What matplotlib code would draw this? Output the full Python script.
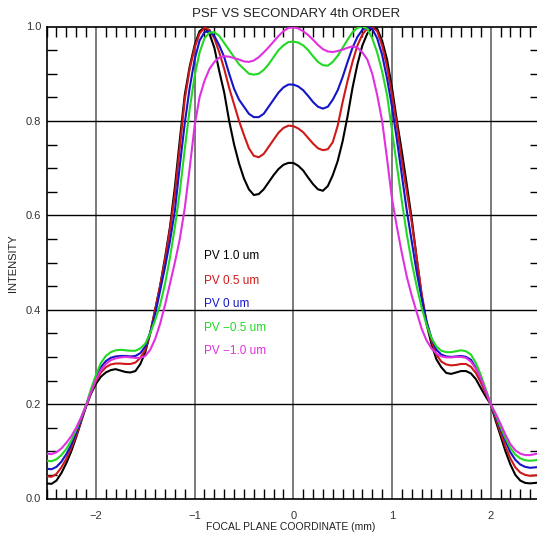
import matplotlib
matplotlib.use("Agg")
import numpy as np
import matplotlib.pyplot as plt
from matplotlib.ticker import MultipleLocator, FixedLocator

plt.rcParams['font.family'] = ['Liberation Sans', 'DejaVu Sans']

x_coord = np.round(np.linspace(-2.5, 2.5, 101), 2)

pv_p10 = [0.032, 0.031, 0.038, 0.054, 0.075, 0.100, 0.130, 0.163, 0.195, 0.222,
          0.243, 0.258, 0.267, 0.272, 0.274, 0.271, 0.268, 0.267, 0.270, 0.285,
          0.310, 0.350, 0.400, 0.450, 0.510, 0.575, 0.660, 0.760, 0.855, 0.915,
          0.960, 0.990, 0.998, 0.985, 0.955, 0.905, 0.860, 0.800, 0.750, 0.710,
          0.678, 0.655, 0.643, 0.645, 0.655, 0.670, 0.685, 0.698, 0.707, 0.711,
          0.711, 0.705, 0.695, 0.680, 0.666, 0.655, 0.652, 0.662, 0.685, 0.715,
          0.757, 0.810, 0.870, 0.920, 0.960, 0.985, 0.998, 0.995, 0.970, 0.930,
          0.870, 0.800, 0.735, 0.665, 0.593, 0.510, 0.430, 0.370, 0.327, 0.295,
          0.278, 0.266, 0.264, 0.267, 0.270, 0.270, 0.265, 0.253, 0.234, 0.216,
          0.200, 0.165, 0.133, 0.100, 0.072, 0.050, 0.038, 0.033, 0.032, 0.033, 0.034]

pv_p05 = [0.047, 0.046, 0.052, 0.066, 0.084, 0.107, 0.133, 0.165, 0.196, 0.225,
          0.249, 0.267, 0.278, 0.284, 0.286, 0.286, 0.285, 0.285, 0.288, 0.298,
          0.315, 0.350, 0.400, 0.450, 0.505, 0.570, 0.645, 0.745, 0.845, 0.910,
          0.955, 0.985, 0.997, 0.993, 0.975, 0.945, 0.910, 0.870, 0.835, 0.800,
          0.770, 0.742, 0.726, 0.723, 0.730, 0.745, 0.760, 0.775, 0.785, 0.790,
          0.789, 0.784, 0.776, 0.764, 0.752, 0.742, 0.738, 0.740, 0.755, 0.790,
          0.840, 0.885, 0.925, 0.960, 0.983, 0.996, 0.999, 0.990, 0.960, 0.915,
          0.855, 0.790, 0.715, 0.650, 0.585, 0.510, 0.435, 0.375, 0.335, 0.305,
          0.290, 0.284, 0.282, 0.283, 0.285, 0.285, 0.279, 0.266, 0.246, 0.223,
          0.200, 0.170, 0.140, 0.110, 0.085, 0.066, 0.055, 0.050, 0.048, 0.049, 0.050]

pv_0 = [0.063, 0.062, 0.067, 0.078, 0.094, 0.114, 0.140, 0.168, 0.197, 0.228,
        0.255, 0.278, 0.291, 0.298, 0.301, 0.302, 0.302, 0.301, 0.302, 0.308,
        0.322, 0.352, 0.390, 0.440, 0.490, 0.545, 0.610, 0.705, 0.795, 0.870,
        0.930, 0.970, 0.988, 0.990, 0.980, 0.960, 0.935, 0.900, 0.868, 0.845,
        0.830, 0.815, 0.808, 0.808, 0.815, 0.830, 0.845, 0.860, 0.871, 0.877,
        0.877, 0.873, 0.865, 0.853, 0.840, 0.830, 0.826, 0.830, 0.845, 0.865,
        0.893, 0.925, 0.955, 0.978, 0.993, 0.999, 0.995, 0.975, 0.940, 0.890,
        0.830, 0.760, 0.685, 0.610, 0.545, 0.480, 0.425, 0.375, 0.340, 0.315,
        0.305, 0.301, 0.300, 0.301, 0.302, 0.300, 0.294, 0.277, 0.254, 0.228,
        0.200, 0.175, 0.148, 0.122, 0.098, 0.082, 0.072, 0.067, 0.065, 0.066, 0.067]

pv_m05 = [0.080, 0.079, 0.083, 0.092, 0.105, 0.123, 0.146, 0.171, 0.198, 0.232,
          0.262, 0.287, 0.302, 0.310, 0.314, 0.315, 0.314, 0.313, 0.313, 0.318,
          0.328, 0.350, 0.378, 0.410, 0.455, 0.510, 0.575, 0.650, 0.740, 0.825,
          0.895, 0.945, 0.975, 0.987, 0.988, 0.980, 0.965, 0.950, 0.935, 0.920,
          0.910, 0.900, 0.898, 0.900, 0.908, 0.920, 0.935, 0.950, 0.960, 0.967,
          0.968, 0.966, 0.960, 0.950, 0.937, 0.925, 0.918, 0.917, 0.925, 0.938,
          0.955, 0.972, 0.988, 0.997, 1.000, 0.995, 0.975, 0.945, 0.905, 0.855,
          0.780, 0.705, 0.630, 0.560, 0.500, 0.450, 0.405, 0.368, 0.340, 0.322,
          0.313, 0.310, 0.310, 0.312, 0.314, 0.312, 0.305, 0.287, 0.262, 0.232,
          0.200, 0.178, 0.152, 0.128, 0.107, 0.093, 0.085, 0.081, 0.080, 0.081, 0.083]

pv_m10 = [0.095, 0.094, 0.098, 0.106, 0.118, 0.132, 0.150, 0.172, 0.197, 0.225,
          0.252, 0.272, 0.285, 0.293, 0.297, 0.299, 0.300, 0.299, 0.298, 0.298,
          0.302, 0.315, 0.338, 0.370, 0.410, 0.455, 0.500, 0.550, 0.615, 0.700,
          0.790, 0.850, 0.885, 0.910, 0.925, 0.934, 0.937, 0.936, 0.933, 0.930,
          0.926, 0.925, 0.928, 0.935, 0.945, 0.956, 0.968, 0.980, 0.990, 0.997,
          0.998, 0.996, 0.990, 0.982, 0.972, 0.961, 0.952, 0.947, 0.946, 0.948,
          0.951, 0.955, 0.958, 0.955, 0.945, 0.930, 0.900, 0.855, 0.800, 0.720,
          0.635, 0.575, 0.520, 0.470, 0.430, 0.395, 0.360, 0.335, 0.318, 0.307,
          0.301, 0.299, 0.299, 0.300, 0.300, 0.298, 0.290, 0.275, 0.255, 0.228,
          0.200, 0.180, 0.158, 0.135, 0.115, 0.102, 0.095, 0.092, 0.092, 0.094, 0.096]

series = [pv_p10, pv_p05, pv_0, pv_m05, pv_m10]
labels = ["PV 1.0 um", "PV 0.5 um", "PV 0 um", "PV \u22120.5 um", "PV \u22121.0 um"]
colors = ["#000000", "#d01818", "#1414c8", "#22d822", "#e030e0"]

x_ticks = [-2, -1, 0, 1, 2]
y_ticks = [0.0, 0.2, 0.4, 0.6, 0.8, 1.0]
y_ticklabels = ["0.0", "0.2", "0.4", "0.6", "0.8", "1.0"]

title = "PSF VS SECONDARY 4th ORDER"
xlabel = "FOCAL PLANE COORDINATE (mm)"
ylabel = "INTENSITY"

# ---- figure ----
W, H = 537, 536
fig = plt.figure(figsize=(W / 100, H / 100), dpi=100)
left_px, right_px, top_px, bot_px = 46.6, 540.0, 26.5, 498.5
ax = fig.add_axes([left_px / W, (H - bot_px) / H, (right_px - left_px) / W, (bot_px - top_px) / H])
ax.set_xlim(-2.5, 2.5)
ax.set_ylim(0, 1)

# grid lines
for xv in x_ticks:
    ax.axvline(xv, color="#7a7a7a", lw=1.4, zorder=1)
for yv in y_ticks[1:-1]:
    ax.axhline(yv, color="#000000", lw=1.0, zorder=1)

for ys, c in zip(series, colors):
    ax.plot(x_coord, ys, color=c, lw=1.5, zorder=3, solid_joinstyle="round")

txt_y = [0.514, 0.461, 0.412, 0.362, 0.313]
for lab, c, ty in zip(labels, colors, txt_y):
    ax.text(-0.905, ty, lab, color=c, fontsize=8.5, ha="left", va="center", zorder=4)

ax.xaxis.set_major_locator(FixedLocator(x_ticks))
ax.set_xticklabels([str(v).replace('-', '\u2212') for v in x_ticks])
ax.xaxis.set_minor_locator(MultipleLocator(0.1))
ax.yaxis.set_major_locator(FixedLocator(y_ticks))
ax.set_yticklabels(y_ticklabels)
ax.yaxis.set_minor_locator(MultipleLocator(0.05))
ax.tick_params(which="both", direction="in", top=True, right=True, color="#000000")
ax.tick_params(which="major", length=0, labelsize=8, labelcolor="#333333", pad=4)
ax.tick_params(which="minor", length=7, width=1.0)
ax.tick_params(axis="x", which="major", pad=9)
ax.tick_params(axis="y", which="major", pad=4)
for s in ax.spines.values():
    s.set_linewidth(1.2)
    s.set_color("#000000")

fig.text(296 / W, 1 - 14 / H, title, ha="center", va="center", fontsize=9.5, color="#222222")
fig.text(291 / W, 1 - 527 / H, xlabel, ha="center", va="center", fontsize=7.5, color="#222222")
fig.text(13 / W, 1 - 263 / H, ylabel, ha="center", va="center", fontsize=8, rotation=90, color="#222222")

fig.savefig("out.png", dpi=100)
